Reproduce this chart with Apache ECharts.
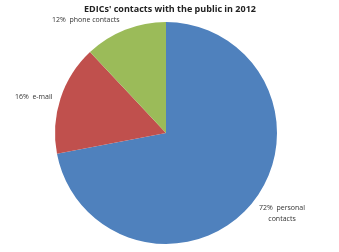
<!DOCTYPE html>
<html>
<head>
<meta charset="utf-8">
<script src="https://cdn.jsdelivr.net/npm/echarts@6/dist/echarts.min.js"></script>
<style>html,body{margin:0;padding:0;background:#fff;}#c{width:339px;height:252px;}</style>
</head>
<body>
<div id="c"></div>
<script>
var categories = ['personal contacts', 'e-mail', 'phone contacts'];
var values = [72, 16, 12];
var labelTexts = ['72%  personal\ncontacts', '16%  e-mail', '12%  phone contacts'];
var colors = ['#4F81BD', '#C0504D', '#9BBB59'];

var labelPos = [
  {x: 282, y: 213, align: 'center'},
  {x: 15, y: 97, align: 'left'},
  {x: 52, y: 20, align: 'left'}
];

var chart = echarts.init(document.getElementById('c'), null, {renderer: 'canvas'});
chart.setOption({
  animation: false,
  title: {
    text: "EDICs' contacts with the public in 2012",
    left: 165, top: 0, textAlign: 'center',
    textStyle: {fontFamily: 'Open Sans', fontWeight: 'bold', fontSize: 9, color: '#222'}
  },
  series: [{
    type: 'pie',
    center: [166, 133],
    radius: 111,
    startAngle: 90,
    clockwise: true,
    avoidLabelOverlap: false,
    data: categories.map(function (c, i) {
      return {name: c, value: values[i], itemStyle: {color: colors[i]}};
    }),
    label: {
      show: true,
      position: 'outside',
      fontFamily: 'Open Sans',
      fontSize: 7,
      lineHeight: 11,
      color: '#333',
      overflow: 'none',
      align: 'center',
      formatter: function (p) { return labelTexts[p.dataIndex]; }
    },
    labelLine: {show: false},
    labelLayout: function (params) {
      var p = labelPos[params.dataIndex];
      return {x: p.x, y: p.y, align: p.align, verticalAlign: 'middle', hideOverlap: false, moveOverlap: null};
    }
  }]
});
</script>
</body>
</html>
